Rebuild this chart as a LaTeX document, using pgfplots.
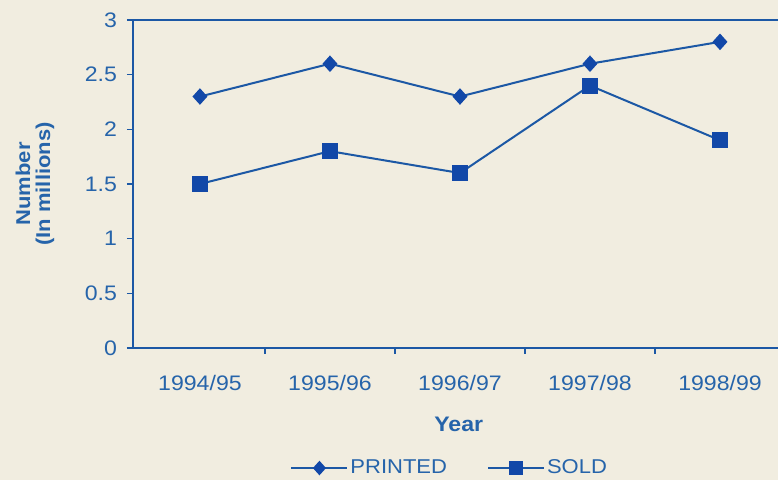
\documentclass[border=0pt]{standalone}
\usepackage{fontspec}
\setmainfont[FakeStretch=1.1]{Liberation Sans}
\usepackage{pgfplots}
\pgfplotsset{compat=1.18}
\definecolor{bg}{RGB}{241,237,224}
\definecolor{ln}{RGB}{28,88,165}
\definecolor{mk}{RGB}{18,72,168}
\definecolor{tx}{RGB}{38,100,170}
\begin{document}
\begin{tikzpicture}
\fill[bg] (0,0) rectangle (389pt,240pt);
\path[use as bounding box] (0,0) rectangle (389pt,240pt);
\begin{axis}[
  at={(66.5pt,66pt)}, anchor=south west,
  scale only axis, width=322.5pt, height=164pt,
  xmin=-0.515, xmax=4.446, ymin=0, ymax=3,
  axis x line*=box, axis y line*=left,
  axis line style={ln, line width=1.1pt, -},
  tick align=outside,
  ytick={0,0.5,...,3},
  major tick length=3pt,
  ytick style={ln, line width=0.7pt},
  xtick={0,...,4},
  xtick pos=left,
  xticklabels={1994/95,1995/96,1996/97,1997/98,1998/99},
  major x tick style={draw=none},
  minor xtick={0.5,1.5,2.5,3.5},
  minor tick length=3pt,
  minor x tick style={ln, line width=0.7pt},
  /pgf/number format/assume math mode=true,
  tick label style={font=\fontsize{10.5}{12}\selectfont, text=tx},
  yticklabel style={xshift=-1.5pt},
  xticklabel style={yshift=-7pt},
  label style={font=\bfseries\fontsize{10}{10}\selectfont, text=tx},
  ylabel={Number\\(In millions)},
  ylabel style={at={(axis description cs:-0.152,0.5)}, anchor=center, align=center},
  xlabel={Year},
  xlabel style={at={(axis description cs:0.505,-0.232)}, anchor=center,
    font=\bfseries\fontsize{10.5}{12}\selectfont},
  legend style={at={(axis description cs:0.491,-0.366)}, anchor=center,
    draw=none, fill=none, legend columns=2, font=\fontsize{10}{12}\selectfont,
    text=tx, nodes={inner xsep=1pt},
    /tikz/every even column/.append style={column sep=19pt}},
  legend image code/.code={\draw[mark repeat=2, mark phase=2, mark size=2.9pt]
    plot coordinates {(0pt,0pt) (14pt,0pt) (28pt,0pt)};},
]
\addplot[ln, line width=1pt, mark=diamond*, mark size=3.4pt,
  mark options={fill=mk, draw=mk, xscale=1.2}]
  coordinates {(0,2.3) (1,2.6) (2,2.3) (3,2.6) (4,2.8)};
\addlegendentry{PRINTED}
\addplot[ln, line width=1pt, mark=square*, mark size=3.5pt,
  mark options={fill=mk, draw=mk}]
  coordinates {(0,1.5) (1,1.8) (2,1.6) (3,2.4) (4,1.9)};
\addlegendentry{SOLD}
\end{axis}
\end{tikzpicture}
\end{document}
